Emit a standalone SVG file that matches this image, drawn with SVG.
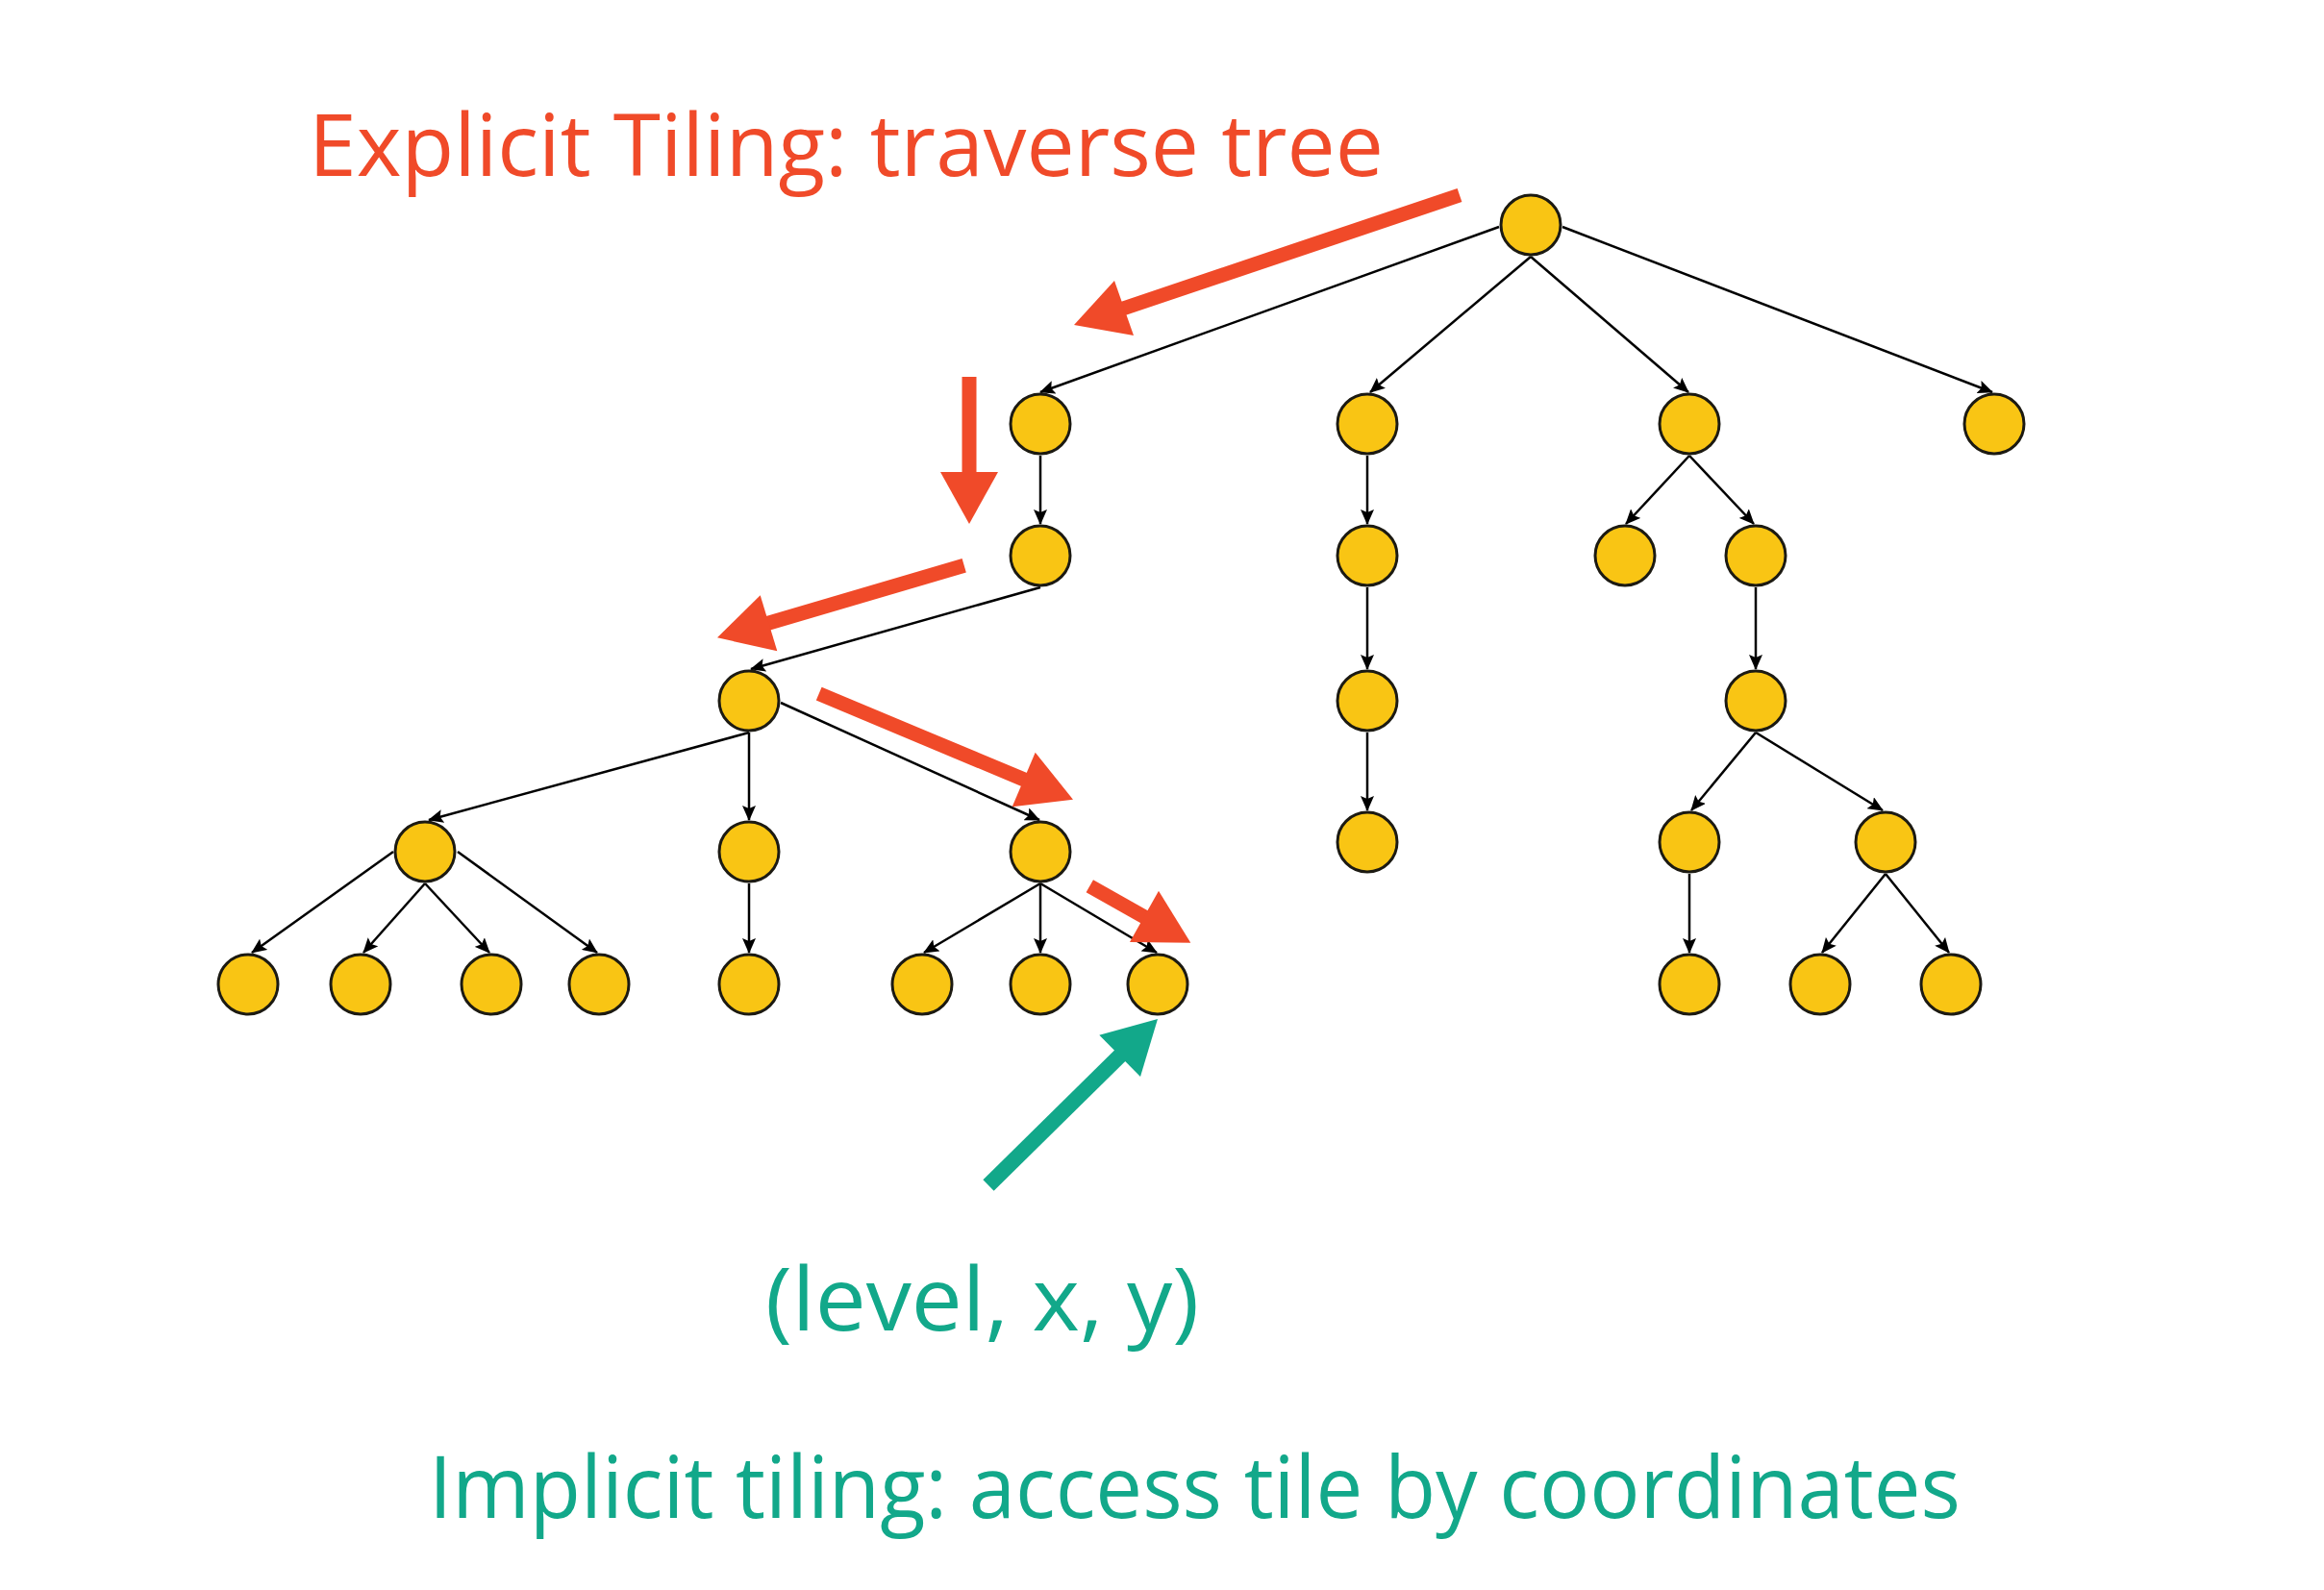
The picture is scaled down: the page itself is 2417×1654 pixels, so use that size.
<svg xmlns="http://www.w3.org/2000/svg" width="2417" height="1654" viewBox="0 0 2417 1654">
<style>
.node{fill:#F9C514;stroke:#1C1A12;stroke-width:3}
.edge{stroke:#000;stroke-width:2.5;fill:none;marker-end:url(#ah)}
.red{stroke:#F04A29;stroke-width:15;fill:none}
.redh{fill:#F04A29}
.grn{stroke:#12A88A;stroke-width:16;fill:none}
.grnh{fill:#12A88A}
.t{font-family:"Open Sans","Noto Sans",sans-serif}
</style>
<defs>
<marker id="ah" markerUnits="userSpaceOnUse" markerWidth="16" markerHeight="14" viewBox="0 0 16 14" refX="15" refY="7" orient="auto">
<path d="M0,0 L16,7 L0,14 L3,7 z" fill="#000"/>
</marker>
</defs>
<rect width="2417" height="1654" fill="#fff"/>
<g id="connectors">
<line class="edge" x1="1559" y1="236" x2="1082" y2="408"/>
<line class="edge" x1="1592" y1="267" x2="1425" y2="408"/>
<line class="edge" x1="1592" y1="267" x2="1756" y2="408"/>
<line class="edge" x1="1625" y1="236" x2="2072" y2="408"/>
<line class="edge" x1="1082" y1="474" x2="1082" y2="545"/>
<line class="edge" x1="1082" y1="611" x2="781" y2="696"/>
<line class="edge" x1="779" y1="762" x2="446" y2="853"/>
<line class="edge" x1="779" y1="762" x2="779" y2="853"/>
<line class="edge" x1="812" y1="731" x2="1081" y2="853"/>
<line class="edge" x1="409" y1="886" x2="262" y2="991"/>
<line class="edge" x1="442" y1="919" x2="378" y2="991"/>
<line class="edge" x1="442" y1="919" x2="509" y2="991"/>
<line class="edge" x1="476" y1="886" x2="621" y2="991"/>
<line class="edge" x1="779" y1="919" x2="779" y2="991"/>
<line class="edge" x1="1082" y1="919" x2="961" y2="991"/>
<line class="edge" x1="1082" y1="919" x2="1082" y2="991"/>
<line class="edge" x1="1082" y1="919" x2="1203" y2="991"/>
<line class="edge" x1="1422" y1="474" x2="1422" y2="545"/>
<line class="edge" x1="1422" y1="611" x2="1422" y2="696"/>
<line class="edge" x1="1422" y1="762" x2="1422" y2="843"/>
<line class="edge" x1="1757" y1="474" x2="1691" y2="545"/>
<line class="edge" x1="1757" y1="474" x2="1824" y2="545"/>
<line class="edge" x1="1826" y1="611" x2="1826" y2="696"/>
<line class="edge" x1="1826" y1="762" x2="1759" y2="843"/>
<line class="edge" x1="1826" y1="762" x2="1958" y2="843"/>
<line class="edge" x1="1757" y1="909" x2="1757" y2="991"/>
<line class="edge" x1="1961" y1="909" x2="1895" y2="991"/>
<line class="edge" x1="1961" y1="909" x2="2027" y2="991"/>
</g>
<g id="nodes">
<g id="n0"><circle class="node" cx="1592" cy="234" r="31"/></g>
<g id="n1"><circle class="node" cx="1082" cy="441" r="31"/></g>
<g id="n2"><circle class="node" cx="1422" cy="441" r="31"/></g>
<g id="n3"><circle class="node" cx="1757" cy="441" r="31"/></g>
<g id="n4"><circle class="node" cx="2074" cy="441" r="31"/></g>
<g id="n5"><circle class="node" cx="1082" cy="578" r="31"/></g>
<g id="n6"><circle class="node" cx="1422" cy="578" r="31"/></g>
<g id="n7"><circle class="node" cx="1690" cy="578" r="31"/></g>
<g id="n8"><circle class="node" cx="1826" cy="578" r="31"/></g>
<g id="n9"><circle class="node" cx="779" cy="729" r="31"/></g>
<g id="n10"><circle class="node" cx="1422" cy="729" r="31"/></g>
<g id="n11"><circle class="node" cx="1826" cy="729" r="31"/></g>
<g id="n12"><circle class="node" cx="442" cy="886" r="31"/></g>
<g id="n13"><circle class="node" cx="779" cy="886" r="31"/></g>
<g id="n14"><circle class="node" cx="1082" cy="886" r="31"/></g>
<g id="n15"><circle class="node" cx="1422" cy="876" r="31"/></g>
<g id="n16"><circle class="node" cx="1757" cy="876" r="31"/></g>
<g id="n17"><circle class="node" cx="1961" cy="876" r="31"/></g>
<g id="n18"><circle class="node" cx="258" cy="1024" r="31"/></g>
<g id="n19"><circle class="node" cx="375" cy="1024" r="31"/></g>
<g id="n20"><circle class="node" cx="511" cy="1024" r="31"/></g>
<g id="n21"><circle class="node" cx="623" cy="1024" r="31"/></g>
<g id="n22"><circle class="node" cx="779" cy="1024" r="31"/></g>
<g id="n23"><circle class="node" cx="959" cy="1024" r="31"/></g>
<g id="n24"><circle class="node" cx="1082" cy="1024" r="31"/></g>
<g id="n25"><circle class="node" cx="1204" cy="1024" r="31"/></g>
<g id="n26"><circle class="node" cx="1757" cy="1024" r="31"/></g>
<g id="n27"><circle class="node" cx="1893" cy="1024" r="31"/></g>
<g id="n28"><circle class="node" cx="2029" cy="1024" r="31"/></g>
</g>
<g id="traversal-arrows">
<line class="red" x1="1518" y1="203" x2="1162" y2="323"/>
<polygon class="redh" points="1117,338 1159,292 1179,349"/>
<line class="red" x1="1008" y1="392" x2="1008" y2="495"/>
<polygon class="redh" points="1008,545 978,491 1038,491"/>
<line class="red" x1="1002.7" y1="588.3" x2="793" y2="650"/>
<polygon class="redh" points="746,663.3 790.7,619.3 808.3,677.3"/>
<line class="red" x1="851.7" y1="721.7" x2="1070" y2="813"/>
<polygon class="redh" points="1116,831.7 1076.7,782.7 1052.7,839.3"/>
<line class="red" x1="1133.3" y1="921.7" x2="1194" y2="956"/>
<polygon class="redh" points="1238.3,980.7 1205,926.7 1175,980"/>
<line class="grn" x1="1028" y1="1233" x2="1169" y2="1094"/>
<polygon class="grnh" points="1204,1060 1143.3,1076.7 1186,1120"/>
</g>
<g id="labels">
<text class="t" x="321" y="183" font-size="90" fill="#F04A29" textLength="1118" lengthAdjust="spacingAndGlyphs">Explicit Tiling: traverse tree</text>
<text class="t" x="796" y="1384" font-size="92" fill="#12A88A" textLength="451" lengthAdjust="spacingAndGlyphs">(level, x, y)</text>
<text class="t" x="446" y="1579" font-size="90" fill="#12A88A" textLength="1593" lengthAdjust="spacingAndGlyphs">Implicit tiling: access tile by coordinates</text>
</g>
</svg>
